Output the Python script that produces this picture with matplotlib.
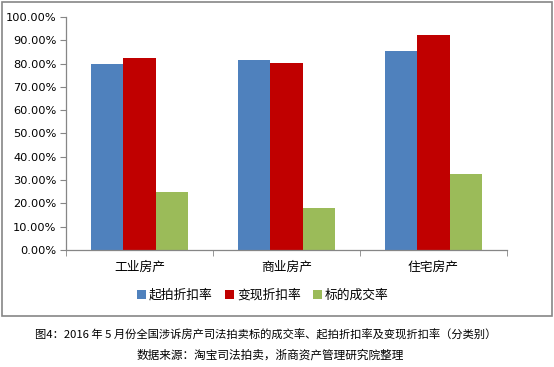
import matplotlib
matplotlib.use("Agg")
import matplotlib.pyplot as plt
import numpy as np
from matplotlib.patches import Rectangle
from matplotlib.ticker import FuncFormatter, MultipleLocator

plt.rcParams['font.family'] = ['Noto Sans CJK SC', 'DejaVu Sans']

categories = ["工业房产", "商业房产", "住宅房产"]
series_names = ["起拍折扣率", "变现折扣率", "标的成交率"]
qipai = [79.9, 81.5, 85.4]
bianxian = [82.4, 80.4, 92.3]
chengjiao = [24.9, 18.0, 32.6]
colors = ["#4F81BD", "#C00000", "#9BBB59"]

fig = plt.figure(figsize=(5.54, 3.67), dpi=100)
ax = fig.add_axes([66/554, 1-250/367, (507-66)/554, (250-17)/367])

x = np.arange(len(categories))
w = 0.222
for i, (vals, name, c) in enumerate(zip([qipai, bianxian, chengjiao], series_names, colors)):
    ax.bar(x + (i-1)*w, vals, width=w, color=c, label=name, zorder=2)

ax.set_xlim(-0.5, 2.5)
ax.set_ylim(0, 100)
ax.yaxis.set_major_locator(MultipleLocator(10))
ax.yaxis.set_major_formatter(FuncFormatter(lambda v, p: f"{v:.2f}%"))
for s in ['top', 'right']:
    ax.spines[s].set_visible(False)
for s in ['left', 'bottom']:
    ax.spines[s].set_color('#868686')
    ax.spines[s].set_linewidth(0.9)
ax.tick_params(axis='y', direction='out', length=4, color='#868686', labelsize=8.2, pad=3)
ax.set_xticks(x)
ax.set_xticklabels(categories, fontsize=9.2)
ax.tick_params(axis='x', length=0, pad=8)
ax.set_xticks([-0.5, 0.5, 1.5, 2.5], minor=True)
ax.tick_params(axis='x', which='minor', direction='out', length=4, color='#868686')
for lab in ax.get_yticklabels():
    lab.set_family(['DejaVu Sans'])

leg = fig.legend(loc='center', bbox_to_anchor=(263/554, 1-295/367), ncol=3, frameon=False,
                 fontsize=9.2, handlelength=0.7, handleheight=0.7, handletextpad=0.2, columnspacing=1.0)

fig.patches.append(Rectangle((2/554, 1-316/367), 550/554, 314/367, transform=fig.transFigure,
                             fill=False, edgecolor='#868686', linewidth=1.2))

fig.text(266/554, 1-335/367, "图4：2016 年 5 月份全国涉诉房产司法拍卖标的成交率、起拍折扣率及变现折扣率（分类别）",
         ha='center', va='center', fontsize=8.1)
fig.text(270/554, 1-355/367, "数据来源：淘宝司法拍卖，浙商资产管理研究院整理",
         ha='center', va='center', fontsize=8.4)

fig.savefig("out.png", dpi=100)
